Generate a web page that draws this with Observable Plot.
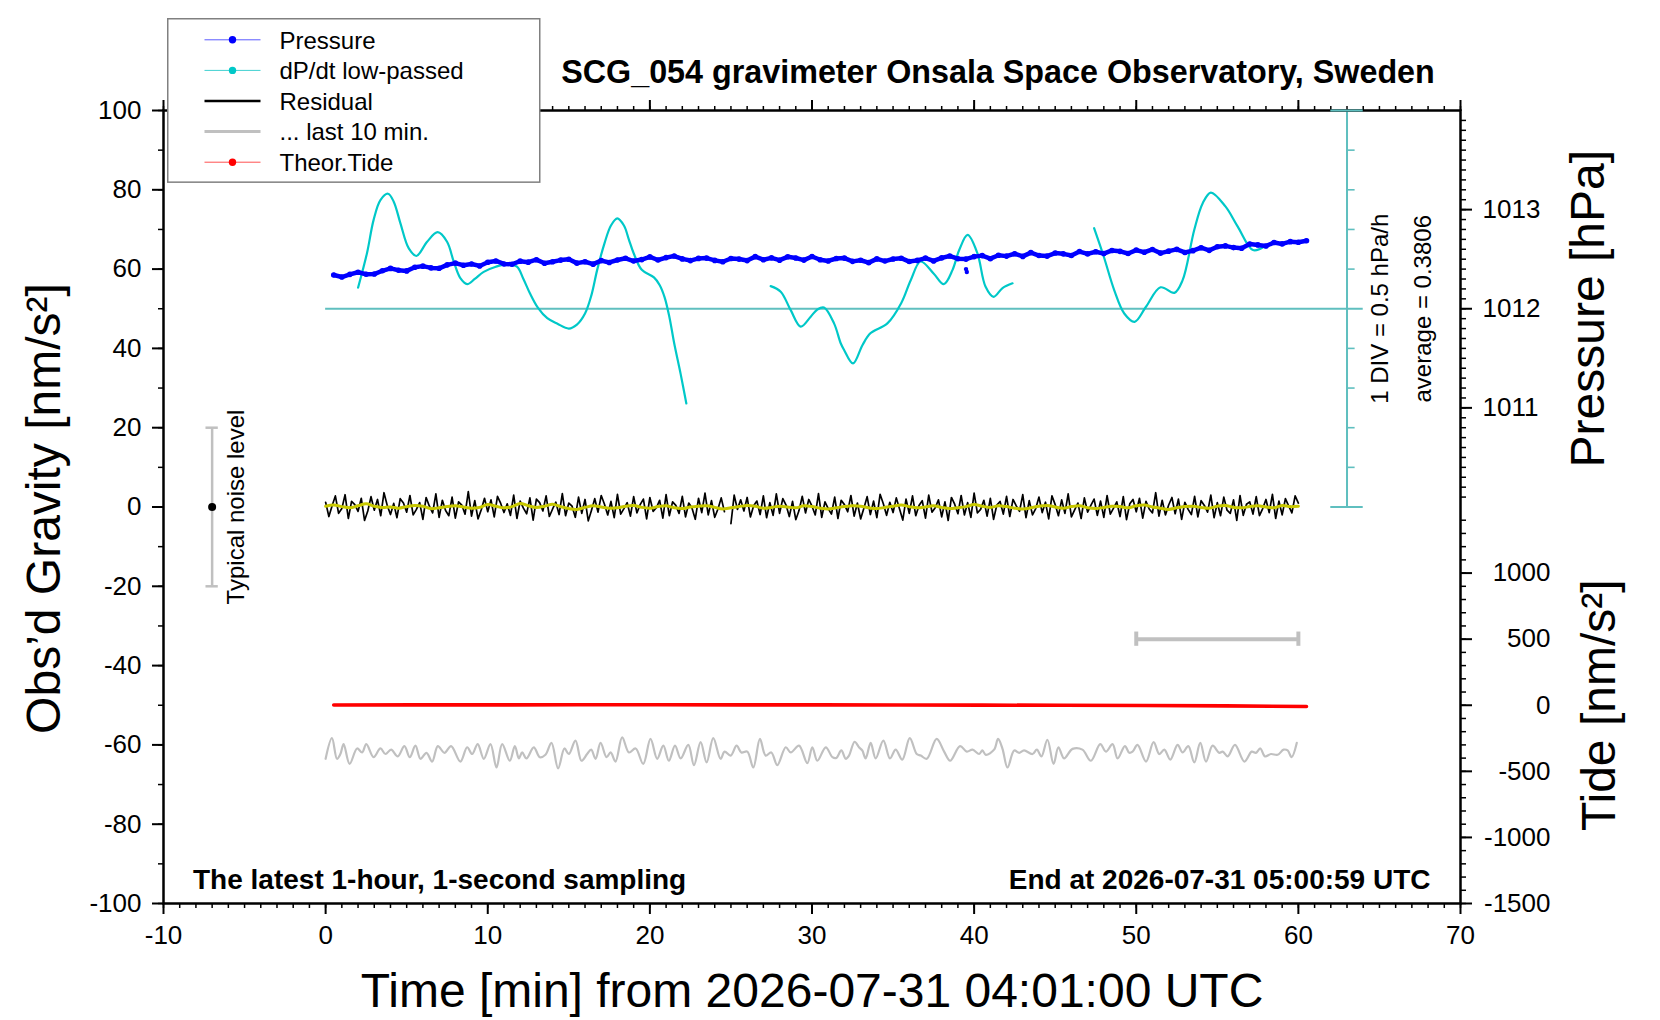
<!DOCTYPE html>
<html><head><meta charset="utf-8">
<script src="https://cdn.jsdelivr.net/npm/d3@7"></script>
<script src="https://cdn.jsdelivr.net/npm/@observablehq/plot@0.6"></script>
<style>
html,body{margin:0;padding:0;background:#fff;}
#wrap{position:relative;width:1660px;height:1020px;font-family:"Liberation Sans",Arial,Helvetica,sans-serif;}
</style></head><body><div id="wrap"></div>
<script>
// ---------- tick labels ----------
const timeTicks = [-10, 0, 10, 20, 30, 40, 50, 60, 70];
const gravityTicks = [-100, -80, -60, -40, -20, 0, 20, 40, 60, 80, 100];
const pressureTicks = [1011, 1012, 1013];
const tideTicks = [-1500, -1000, -500, 0, 500, 1000];

// ---------- dP/dt display scale ----------
const dpdtAverage = 0.3806;   // hPa/h
const dpdtPerDiv = 0.5;       // hPa/h per division
const dpdtDivs = [-5, -4, -3, -2, -1, 0, 1, 2, 3, 4, 5];

// ---------- dP/dt low-passed [minute, hPa/h] ----------
const dpdtSegment1 = [[2.0,0.646],[2.55,1.081],[2.96,1.501],[3.38,1.751],[3.85,1.831],[4.2,1.731],[4.61,1.461],[5.13,1.141],[5.6,1.046],[6.26,1.226],[6.91,1.346],[7.49,1.226],[7.9,0.976],[8.31,0.766],[8.73,0.691],[9.2,0.756],[9.75,0.846],[10.5,0.911],[11.2,0.941],[11.8,0.911],[12.2,0.756],[12.6,0.576],[13.1,0.391],[13.67,0.261],[14.3,0.191],[15.0,0.131],[15.5,0.181],[16.0,0.321],[16.4,0.556],[16.75,0.871],[17.2,1.206],[17.6,1.431],[17.99,1.521],[18.4,1.431],[18.7,1.256],[19.0,1.081],[19.5,0.871],[20.25,0.776],[20.6,0.681],[20.9,0.531],[21.2,0.281],[21.5,-0.054],[21.9,-0.444],[22.25,-0.814]];
const dpdtSegment2 = [[27.45,0.666],[28.07,0.596],[28.68,0.366],[29.3,0.156],[29.92,0.281],[30.33,0.371],[30.74,0.396],[31.36,0.196],[31.77,-0.054],[31.98,-0.139],[32.53,-0.309],[33.11,-0.079],[33.6,0.071],[34.65,0.196],[35.5,0.451],[36.09,0.741],[36.7,0.976],[37.5,0.826],[38.13,0.691],[38.67,0.871],[39.08,1.121],[39.6,1.311],[40.2,1.081],[40.7,0.661],[41.2,0.531],[41.75,0.641],[42.37,0.701]];
const dpdtSegment3 = [[47.4,1.396],[48.0,1.036],[48.64,0.616],[49.26,0.321],[49.9,0.216],[50.6,0.406],[51.5,0.651],[52.35,0.581],[52.86,0.741],[53.58,1.376],[54.1,1.711],[54.6,1.846],[55.5,1.671],[56.26,1.416],[57.2,1.121],[57.9,1.166]];

// ---------- Pressure [hPa], every 0.5 min from 0.5 min ----------
const pressureStart = 0.5, pressureStep = 0.5;
const pressureValues = [1012.340,1012.320,1012.347,1012.368,1012.348,1012.350,1012.383,1012.407,1012.388,1012.382,1012.419,1012.430,1012.412,1012.408,1012.443,1012.460,1012.439,1012.452,1012.432,1012.469,
1012.482,1012.452,1012.449,1012.480,1012.470,1012.495,1012.459,1012.474,1012.491,1012.499,1012.460,1012.474,1012.450,1012.486,1012.467,1012.492,1012.509,1012.481,1012.496,1012.523,
1012.492,1012.516,1012.532,1012.503,1012.486,1012.508,1012.511,1012.488,1012.474,1012.507,1012.501,1012.486,1012.526,1012.495,1012.513,1012.490,1012.524,1012.512,1012.491,1012.527,
1012.494,1012.482,1012.507,1012.511,1012.478,1012.489,1012.465,1012.503,1012.481,1012.502,1012.510,1012.476,1012.488,1012.511,1012.482,1012.513,1012.532,1012.505,1012.501,1012.526,
1012.536,1012.505,1012.540,1012.531,1012.555,1012.528,1012.566,1012.537,1012.531,1012.562,1012.554,1012.537,1012.577,1012.554,1012.575,1012.556,1012.588,1012.579,1012.557,1012.592,
1012.570,1012.598,1012.561,1012.581,1012.599,1012.568,1012.586,1012.616,1012.589,1012.625,1012.634,1012.617,1012.610,1012.653,1012.644,1012.633,1012.668,1012.654,1012.677,1012.671,
1012.686];
const pressureOutliers = [[39.5,1012.40],[39.55,1012.37]];

// ---------- Residual [nm/s^2], every 0.2 min ----------
const residualStep = 0.2;
const residualValues = [1.2,-2.4,0.3,2.8,-1.6,-0.4,3.1,-2.9,1.4,0.6,-1.1,2.2,-3.4,-1.0,2.6,-0.8,1.9,-2.2,3.6,0.4,
-1.9,0.9,-2.7,2.1,1.0,-1.3,2.9,-2.0,-0.6,1.1,-3.1,2.4,0.2,-1.5,3.3,-2.6,1.7,-0.9,-2.2,2.5,
-2.8,1.3,0.5,-1.8,3.9,-2.3,1.6,-3.0,-0.7,2.2,-1.2,1.8,-2.5,2.7,0.9,-1.4,0.8,-2.1,3.0,-2.9,
1.5,-0.3,-1.7,2.3,-3.3,2.0,1.1,-1.0,2.8,-2.4,-0.5,1.2,-1.9,3.4,-2.2,1.0,0.2,-2.6,2.5,-1.6,
1.9,-3.5,-0.8,2.1,-1.3,2.9,0.7,-2.0,1.4,-2.7,3.2,-1.8,-0.4,1.1,-2.3,2.6,-1.5,0.6,2.0,-3.0,
2.4,-1.1,-0.2,1.7,-2.8,3.1,-2.2,1.3,0.4,-1.6,2.7,-2.5,1.0,-0.3,-3.1,2.2,-1.4,3.5,-2.0,1.6,
-2.6,-0.5,2.3,-1.2,NaN,-4.2,3.0,-0.6,1.8,-1.0,2.4,-2.5,0.3,1.5,-1.9,2.8,-2.7,1.1,-2.1,3.3,
-1.6,2.1,0.5,-2.4,1.4,-3.2,-0.9,2.7,-1.5,1.9,0.2,-2.0,3.4,-2.6,1.3,-0.4,-1.8,2.5,-2.9,1.7,
0.6,-1.2,2.9,-2.3,1.0,-3.0,-0.3,2.6,-1.9,1.5,-2.7,3.2,0.8,-2.1,1.2,-1.4,2.3,-0.5,-3.3,2.0,
-1.6,2.8,-2.2,0.4,1.6,-2.8,3.0,-1.3,-0.2,1.8,-2.5,1.3,-3.4,2.4,0.7,-1.7,2.9,-2.0,1.1,-2.6,
3.5,-1.5,-0.6,1.7,-2.3,2.2,-3.1,0.5,1.4,-1.8,2.7,-2.4,1.9,0.3,-1.1,3.1,-2.7,1.6,-2.0,-0.4,
2.5,-1.4,1.2,-3.0,2.8,0.6,-2.2,1.8,-1.6,3.3,-2.5,-0.7,1.0,-2.9,2.3,-1.3,0.4,2.0,-2.1,1.5,
-2.6,2.9,-1.8,-0.3,1.3,-2.4,2.6,-3.2,0.8,1.9,-1.2,2.2,-2.8,1.4,-0.5,-1.5,3.6,-2.3,1.7,-2.0,
0.5,2.4,-1.7,2.0,-3.1,1.2,-0.6,-1.9,2.7,-2.5,1.6,0.4,-1.3,3.0,-2.7,1.1,-2.2,2.5,-0.8,-1.6,
1.8,-3.4,2.9,-2.1,0.7,1.3,-1.8,2.6,-2.2,-0.4,1.9,-1.4,3.2,-2.9,1.5,-2.0,2.1,0.3,-1.5,2.8,
1.0];

// ---------- Smoothed residual (yellow), every 0.5 min ----------
const smoothStep = 0.5;
const smoothValues = [0.2,0.5,0.1,-0.2,0.3,0.8,0.2,-0.1,0.0,-0.3,
0.1,0.4,0.2,-0.4,-0.2,0.1,0.3,0.0,-0.3,-0.1,
0.6,0.2,-0.2,0.1,0.9,0.3,-0.1,0.2,0.7,0.1,
-0.4,-0.6,-0.1,0.3,0.0,-0.3,-0.2,0.2,0.4,-0.1,
-0.3,0.1,0.3,-0.2,-0.4,0.0,0.2,0.3,-0.1,-0.5,
-0.2,0.1,0.4,0.2,-0.3,-0.1,0.2,0.0,-0.2,0.3,
0.1,-0.3,-0.5,-0.2,0.1,0.3,0.2,-0.2,-0.4,-0.1,
0.2,0.5,0.1,-0.2,0.0,0.3,-0.1,-0.4,-0.2,0.1,
0.6,0.2,-0.1,0.3,0.1,-0.3,-0.5,-0.2,0.2,0.4,
0.0,-0.3,0.1,0.3,-0.2,-0.4,-0.1,0.2,0.1,-0.2,
0.3,0.5,0.0,-0.3,-0.6,-0.2,0.1,0.2,-0.1,-0.3,
0.2,0.4,-0.1,-0.2,0.1,0.3,0.0,-0.2,0.4,0.1,
0.2];

// ---------- Theoretical tide [nm/s^2] ----------
const tideTimes = [0.5,5.5,10.5,15.5,20.5,25.5,30.5,35.5,40.5,45.5,50.5,55.5,60.5];
const tideValues = [2,3,3,4,4,3,3,2,1,0,-2,-5,-9];

// ---------- last 10 min trace (gray), [plot minute, nm/s^2] ----------
const lastTenTrace = [[0.0,-63.5],[0.39,-58.3],[0.70,-63.5],[0.91,-62.3],[1.11,-59.8],[1.48,-64.8],[1.94,-60.9],[2.25,-61.9],[2.51,-59.8],[2.96,-63.1],[3.38,-60.9],[3.69,-62.3],[4.04,-61.2],[4.45,-62.9],[4.86,-60.3],[5.19,-63.1],[5.54,-60.2],[5.85,-63.5],[6.22,-62.0],[6.57,-64.2],[6.92,-60.3],[7.33,-62.0],[7.74,-60.3],[8.31,-64.2],[8.73,-60.6],[9.04,-62.3],[9.38,-59.8],[9.76,-63.5],[10.17,-59.8],[10.54,-65.7],[10.89,-59.8],[11.36,-64.0],[11.67,-60.3],[11.92,-63.4],[12.12,-61.9],[12.39,-63.4],[12.84,-60.6],[13.21,-63.1],[13.56,-62.5],[13.93,-59.5],[14.34,-65.9],[14.73,-60.9],[15.0,-62.3],[15.41,-58.9],[15.78,-64.0],[16.13,-62.3],[16.38,-61.2],[16.65,-63.5],[16.96,-59.5],[17.33,-63.1],[17.58,-61.9],[17.88,-64.2],[18.29,-58.1],[18.71,-61.9],[19.12,-60.9],[19.59,-64.8],[20.04,-58.5],[20.45,-63.5],[20.83,-60.2],[21.17,-64.0],[21.55,-60.2],[21.9,-63.4],[22.37,-60.0],[22.72,-65.1],[23.13,-59.3],[23.5,-64.4],[23.91,-58.3],[24.36,-63.5],[24.61,-61.7],[24.98,-62.7],[25.35,-60.2],[25.64,-61.9],[26.01,-61.7],[26.38,-65.7],[26.79,-58.5],[27.14,-62.7],[27.49,-61.9],[27.86,-65.1],[28.38,-60.6],[28.69,-61.9],[29.2,-60.2],[29.71,-64.6],[30.02,-60.6],[30.33,-64.0],[30.85,-60.6],[31.26,-63.1],[31.5,-63.3],[31.81,-61.4],[32.08,-63.5],[32.28,-62.7],[32.63,-59.2],[32.9,-60.6],[33.1,-61.4],[33.31,-63.4],[33.62,-59.5],[33.93,-63.4],[34.4,-58.9],[34.81,-63.4],[35.16,-61.2],[35.57,-63.7],[36.03,-58.3],[36.46,-62.3],[36.71,-62.7],[37.08,-63.5],[37.69,-58.5],[38.15,-61.7],[38.52,-64.0],[39.13,-60.3],[39.55,-61.7],[39.9,-61.2],[40.31,-62.3],[40.51,-61.4],[40.72,-62.5],[41.23,-61.2],[41.48,-58.5],[41.75,-61.0],[42.06,-65.7],[42.47,-61.4],[42.78,-62.0],[43.08,-61.4],[43.6,-62.3],[43.87,-61.2],[44.15,-62.9],[44.52,-58.7],[44.9,-64.8],[45.2,-60.6],[45.55,-63.4],[46.07,-61.0],[46.68,-61.2],[47.2,-64.0],[47.78,-59.8],[48.13,-61.7],[48.54,-59.8],[48.85,-63.4],[49.3,-60.3],[49.57,-62.0],[49.77,-61.7],[50.08,-60.0],[50.6,-64.2],[51.07,-59.3],[51.42,-62.3],[51.73,-61.2],[52.1,-63.7],[52.55,-60.0],[52.86,-61.9],[53.21,-60.3],[53.58,-64.4],[53.95,-59.5],[54.3,-64.2],[54.71,-60.2],[55.12,-62.0],[55.33,-61.7],[55.64,-62.9],[56.09,-60.0],[56.67,-64.2],[57.12,-61.7],[57.38,-62.0],[57.65,-60.9],[57.94,-62.9],[58.31,-62.3],[58.72,-62.5],[59.09,-61.2],[59.34,-61.4],[59.58,-63.1],[59.9,-59.5]];

// ---------- annotations ----------
const lastTenRange = [50, 60];      // minutes
const lastTenTide = 500;            // nm/s^2 on tide axis
const noiseBarTime = -7;            // minutes
const noiseLevel = 20;              // nm/s^2
const dpdtAxisTime = 63;            // minutes
const titleText = "SCG_054 gravimeter Onsala Space Observatory, Sweden";
const leftNote = "The latest 1-hour, 1-second sampling";
const rightNote = "End at 2026-07-31 05:00:59 UTC";
const xLabel = "Time [min] from 2026-07-31 04:01:00 UTC";

// ---------- scale conversions onto the gravity axis ----------
const pToG = p => 50 + 25 * (p - 1012);
const gToP = g => 1012 + (g - 50) / 25;
const tToG = t => -50 + t / 30;
const gToT = g => (g + 50) * 30;
const dpdtToG = v => 50 + (v - dpdtAverage) / dpdtPerDiv * 10;

const FONT = "'Liberation Sans', Arial, Helvetica, sans-serif";
const TEAL = "#5fbfbf", CYAN = "#00c8c8", GRAY = "#c0c0c0";

const timeMinor = d3.range(-10, 71, 1);
const gravityMinor = d3.range(-100, 101, 10);
const pressureMinor = d3.range(101, 140).map(i => pToG(1000 + i / 10));
const tideMinor = d3.range(-1500, 1401, 100).map(tToG);
const dpdtTickG = dpdtDivs.filter(d => Math.abs(d) !== 5 && d !== 0).map(d => 50 + d * 10);
const dpdtEndG = [50 - 50, 50 + 50];
const blank = () => "";

const plot = Plot.plot({
  width: 1660, height: 1020,
  marginLeft: 163, marginRight: 200, marginTop: 110, marginBottom: 117,
  x: {domain: [-10, 70], label: null},
  y: {domain: [-100, 100], label: null},
  style: {fontFamily: FONT, fontSize: "26px", background: "white", color: "black", overflow: "visible"},
  marks: [
    // dP/dt reference line and its own axis
    Plot.ruleY([dpdtToG(dpdtAverage)], {x1: 0, x2: dpdtAxisTime + 1, stroke: TEAL, strokeWidth: 2}),
    Plot.ruleX([dpdtAxisTime], {y1: dpdtEndG[0], y2: dpdtEndG[1], stroke: TEAL, strokeWidth: 2}),
    Plot.ruleY(dpdtTickG, {x1: dpdtAxisTime, x2: dpdtAxisTime + 0.5, stroke: TEAL, strokeWidth: 1.6}),
    Plot.ruleY(dpdtEndG, {x1: dpdtAxisTime - 1, x2: dpdtAxisTime + 1, stroke: TEAL, strokeWidth: 1.8}),
    // dP/dt curves
    ...[dpdtSegment1, dpdtSegment2, dpdtSegment3].map(seg =>
      Plot.line(seg, {x: d => d[0], y: d => dpdtToG(d[1]), stroke: CYAN, strokeWidth: 2.2, curve: "catmull-rom"})),
    // Pressure
    Plot.line(pressureValues, {x: (d, i) => pressureStart + i * pressureStep, y: d => pToG(d), stroke: "#0000ff", strokeWidth: 4.5}),
    Plot.dot(pressureValues, {x: (d, i) => pressureStart + i * pressureStep, y: d => pToG(d), r: 2.8, fill: "#0000ff"}),
    Plot.dot(pressureOutliers, {x: d => d[0], y: d => pToG(d[1]), r: 2.2, fill: "#0000ff"}),
    // Residual
    Plot.line(residualValues, {x: (d, i) => i * residualStep, y: d => d, stroke: "black", strokeWidth: 1.7}),
    Plot.line(smoothValues, {x: (d, i) => i * smoothStep, y: d => d, stroke: "#c8c800", strokeWidth: 3, curve: "catmull-rom"}),
    // Theoretical tide
    Plot.line(tideValues, {x: (d, i) => tideTimes[i], y: d => tToG(d), stroke: "#ff0000", strokeWidth: 3.6}),
    // last 10 min trace
    Plot.line(lastTenTrace, {x: d => d[0], y: d => d[1], stroke: GRAY, strokeWidth: 2.2, curve: "catmull-rom"}),
    // last 10 min bracket
    Plot.ruleY([tToG(lastTenTide)], {x1: lastTenRange[0], x2: lastTenRange[1], stroke: GRAY, strokeWidth: 4}),
    Plot.ruleX(lastTenRange, {y1: tToG(lastTenTide) - 1.8, y2: tToG(lastTenTide) + 1.8, stroke: GRAY, strokeWidth: 4}),
    // typical noise level bar
    Plot.ruleX([noiseBarTime], {y1: -noiseLevel, y2: noiseLevel, stroke: GRAY, strokeWidth: 2.5}),
    Plot.ruleY([-noiseLevel, noiseLevel], {x1: noiseBarTime - 0.38, x2: noiseBarTime + 0.38, stroke: GRAY, strokeWidth: 2.5}),
    Plot.dot([0], {x: noiseBarTime, y: d => d, r: 4, fill: "black"}),
    Plot.text(["Typical noise level"], {x: noiseBarTime, y: 0, rotate: -90, dx: 32, textAnchor: "middle", lineAnchor: "bottom", fontSize: 24}),
    // dP/dt annotations
    Plot.text(["1 DIV = " + dpdtPerDiv + " hPa/h"], {x: dpdtAxisTime, y: 50, rotate: -90, dx: 40.5, textAnchor: "middle", lineAnchor: "bottom", fontSize: 24}),
    Plot.text(["average = " + dpdtAverage], {x: dpdtAxisTime, y: 50, rotate: -90, dx: 84, textAnchor: "middle", lineAnchor: "bottom", fontSize: 24}),
    // frame
    Plot.frame({stroke: "black", strokeWidth: 2.5}),
    // axes
    Plot.axisX(timeTicks, {anchor: "bottom", tickSize: 11, tickPadding: 11, tickFormat: d => String(d), fontSize: 26, strokeWidth: 2, label: null}),
    Plot.axisX(timeMinor, {anchor: "bottom", tickSize: 5, tickFormat: blank, strokeWidth: 1.5, label: null}),
    Plot.axisX(timeTicks, {anchor: "top", tickSize: 11, tickFormat: blank, strokeWidth: 2, label: null}),
    Plot.axisX(timeMinor, {anchor: "top", tickSize: 5, tickFormat: blank, strokeWidth: 1.5, label: null}),
    Plot.axisY(gravityTicks, {anchor: "left", tickSize: 11, tickPadding: 11, tickFormat: d => String(d), fontSize: 26, strokeWidth: 2, label: null}),
    Plot.axisY(gravityMinor, {anchor: "left", tickSize: 5, tickFormat: blank, strokeWidth: 1.5, label: null}),
    Plot.axisY(pressureTicks.map(pToG), {anchor: "right", tickSize: 11, tickPadding: 11, tickFormat: g => gToP(g).toFixed(0), fontSize: 26, strokeWidth: 2, label: null}),
    Plot.axisY(pressureMinor, {anchor: "right", tickSize: 5, tickFormat: blank, strokeWidth: 1.5, label: null}),
    Plot.axisY(tideTicks.map(tToG), {anchor: "right", tickSize: 11, tickPadding: 79, textAnchor: "end", tickFormat: g => String(Math.round(gToT(g))), fontSize: 26, strokeWidth: 2, label: null}),
    Plot.axisY(tideMinor, {anchor: "right", tickSize: 5, tickFormat: blank, strokeWidth: 1.5, label: null}),
    // dP/dt axis top cap over the frame
    Plot.ruleY([dpdtEndG[1]], {x1: dpdtAxisTime - 1, x2: dpdtAxisTime + 1, stroke: TEAL, strokeWidth: 1.8}),
    // axis titles
    Plot.text(["Obs’d Gravity [nm/s²]"], {frameAnchor: "left", rotate: -90, dx: -104, dy: 1.5, textAnchor: "middle", lineAnchor: "bottom", fontSize: 48}),
    Plot.text(["Pressure [hPa]"], {y: pToG(1012), frameAnchor: "right", rotate: -90, dx: 143, textAnchor: "middle", lineAnchor: "bottom", fontSize: 48}),
    Plot.text(["Tide [nm/s²]"], {y: tToG(0), frameAnchor: "right", rotate: -90, dx: 154, textAnchor: "middle", lineAnchor: "bottom", fontSize: 48}),
    Plot.text([xLabel], {frameAnchor: "bottom", dx: 0, dy: 103, textAnchor: "middle", lineAnchor: "bottom", fontSize: 48}),
    Plot.text([titleText], {frameAnchor: "top", dx: 186, dy: -27.5, textAnchor: "middle", lineAnchor: "bottom", fontSize: 32.3, fontWeight: "bold"}),
    Plot.text([leftNote], {frameAnchor: "bottom-left", dx: 29.5, dy: -15, textAnchor: "start", lineAnchor: "bottom", fontSize: 28, fontWeight: "bold"}),
    Plot.text([rightNote], {frameAnchor: "bottom-right", dx: -30, dy: -15, textAnchor: "end", lineAnchor: "bottom", fontSize: 28, fontWeight: "bold"})
  ]
});
const wrap = document.getElementById("wrap");
wrap.appendChild(plot);

// ---------- legend (overlay box) ----------
const legendItems = [
  {label: "Pressure", line: "#5a5aff", width: 1, dot: "#0000ff"},
  {label: "dP/dt low-passed", line: "#40d0d0", width: 1, dot: "#00c8c8"},
  {label: "Residual", line: "#000000", width: 2.5, dot: null},
  {label: "... last 10 min.", line: GRAY, width: 3, dot: null},
  {label: "Theor.Tide", line: "#ff5050", width: 1, dot: "#ff0000"}
];
const leg = d3.select(wrap).append("svg")
  .attr("width", 376).attr("height", 167)
  .style("position", "absolute").style("left", "166.5px").style("top", "17.5px")
  .style("font-family", FONT);
leg.append("rect").attr("x", 0.75).attr("y", 0.75).attr("width", 372).attr("height", 163.4)
  .attr("fill", "white").attr("stroke", "#808080").attr("stroke-width", 1.5);
const rowY = i => 21.8 + i * 30.6;
legendItems.forEach((d, i) => {
  const y = rowY(i);
  leg.append("line").attr("x1", 37.5).attr("x2", 93.5).attr("y1", y).attr("y2", y)
    .attr("stroke", d.line).attr("stroke-width", d.width);
  if (d.dot) leg.append("circle").attr("cx", 65.5).attr("cy", y).attr("r", 3.7).attr("fill", d.dot);
  leg.append("text").attr("x", 112.5).attr("y", y + 8.8).attr("font-size", 24).attr("fill", "black").text(d.label);
});
</script>
</body></html>
